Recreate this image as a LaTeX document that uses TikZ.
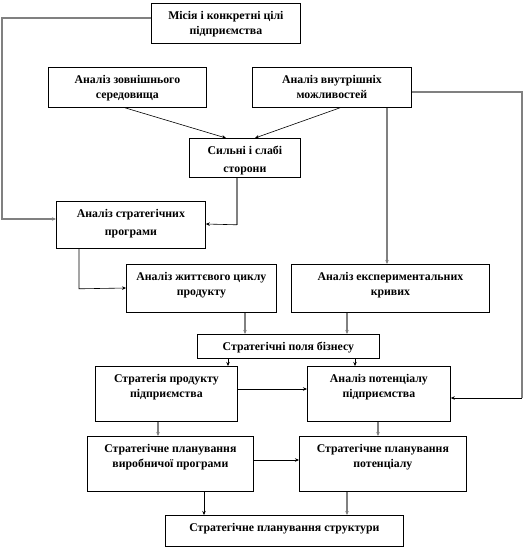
\documentclass[tikz,border=0pt]{standalone}
\usepackage{fontspec}
\setmainfont{Liberation Serif}
\usetikzlibrary{arrows.meta,calc}
\begin{document}
\begin{tikzpicture}[x=1pt,y=-1pt,
  box/.style={draw=black,line width=0.8pt,anchor=north west,inner sep=0pt},
  txt/.style={anchor=north,align=center,inner sep=0pt},
  gline/.style={draw=black!50,line width=1.1pt},
  bline/.style={draw=black,line width=0.6pt},
  arr/.style={-{Stealth[length=4pt,width=3.5pt]}}]
\useasboundingbox (0,0) rectangle (530,550);
\newcommand{\bx}[7][15]{\node[box,minimum width=#5,minimum height=#6] (#2) at (#3,#4) {};
  \node[txt,font=\fontsize{11.8}{#1}\selectfont\bfseries] (#2t) at ($(#2.north)+(0,8)$) {#7};}
\bx{n1}{151}{3}{149}{40}{Місія і конкретні цілі\\підприємства}
\bx{n2}{48}{67}{158}{40}{Аналіз зовнішнього\\середовища}
\bx{n3}{252}{67}{159}{40}{Аналіз внутрішніх\\можливостей}
\bx[18]{n4}{189}{138}{111}{39}{Сильні і слабі\\сторони}
\bx[18]{n5}{56}{201}{149}{47}{Аналіз стратегічних\\програми}
\bx{n6}{126}{264}{150}{48}{Аналіз життєвого циклу\\продукту}
\bx{n7}{291}{264}{198}{48}{Аналіз експериментальних\\кривих}
\bx{n8}{197}{334}{182}{24}{Стратегічні поля бізнесу}
\bx{n9}{95}{366}{142}{55}{Стратегія продукту\\підприємства}
\bx{n10}{307}{366}{143}{55}{Аналіз потенціалу\\підприємства}
\bx{n11}{87}{436}{166}{55}{Стратегічне планування\\виробничої програми}
\bx{n12}{299}{436}{167}{55}{Стратегічне планування\\потенціалу}
\bx{n13}{165}{515}{238}{31}{Стратегічне планування структури}
% helper coordinates
\coordinate (cL) at (2,0);
\coordinate (cR) at (522,0);
\coordinate (a1) at ($(n1.north west)+(0,15)$);
\coordinate (a5) at ($(n5.north west)+(0,18)$);
\coordinate (b3) at ($(n3.north east)+(0,25)$);
\coordinate (b10) at ($(n10.north east)+(0,32)$);
\coordinate (s4) at ($(n4.south west)+(48,0)$);
\coordinate (s4b) at ($(n4.south west)+(48,47)$);
\coordinate (e5) at ($(n5.north east)+(0,23)$);
\coordinate (q5) at ($(n5.south west)+(23,0)$);
\coordinate (q5b) at ($(n5.south west)+(23,40)$);
\coordinate (w6) at ($(n6.north west)+(0,24)$);
% Місія -> Аналіз стратегічних
\draw[gline,arr] (a1) -- (cL |- a1) -- (cL |- a5) -- (a5);
% зовнішнього, внутрішніх -> сильні
\draw[bline,arr] ($(n2.south west)+(77,0)$) -- ($(n4.north west)+(37,0)$);
\draw[bline,arr] ($(n3.south west)+(88,0)$) -- ($(n4.north west)+(66,0)$);
% внутрішніх -> потенціалу
\draw[gline] (b3) -- (cR |- b3) -- (cR |- b10);
\draw[bline,arr] (cR |- b10) -- (b10);
% внутрішніх -> експериментальних
\draw[gline,arr] ($(n3.south west)+(135,0)$) -- ($(n7.north west)+(96,0)$);
% сильні -> стратегічних
\draw[gline] (s4) -- (s4b);
\draw[bline,arr] (s4b) -- (e5);
% стратегічних -> життєвого
\draw[bline,arr] (q5) -- (q5b) -- (w6);
% -> поля
\draw[gline,arr] ($(n6.south west)+(119,0)$) -- ($(n8.north west)+(48,0)$);
\draw[gline,arr] ($(n7.south west)+(56,0)$) -- ($(n8.north west)+(150,0)$);
% поля -> 9, 10
\draw[bline,arr] ($(n8.south west)+(31,0)$) -- ($(n9.north west)+(133,0)$);
\draw[bline,arr] ($(n8.south west)+(158,0)$) -- ($(n10.north west)+(48,0)$);
% 9 -> 10
\draw[bline,arr] ($(n9.north east)+(0,23)$) -- ($(n10.north west)+(0,23)$);
% 9 -> 11, 10 -> 12
\draw[gline,arr] ($(n9.south west)+(63,0)$) -- ($(n11.north west)+(71,0)$);
\draw[gline,arr] ($(n10.south west)+(71,0)$) -- ($(n12.north west)+(79,0)$);
% 11 -> 12
\draw[bline,arr] ($(n11.north east)+(0,24)$) -- ($(n12.north west)+(0,24)$);
% 11, 12 -> 13
\draw[bline,arr] ($(n11.south west)+(117,0)$) -- ($(n13.north west)+(39,0)$);
\draw[gline,arr] ($(n12.south west)+(48,0)$) -- ($(n13.north west)+(182,0)$);
\end{tikzpicture}
\end{document}
